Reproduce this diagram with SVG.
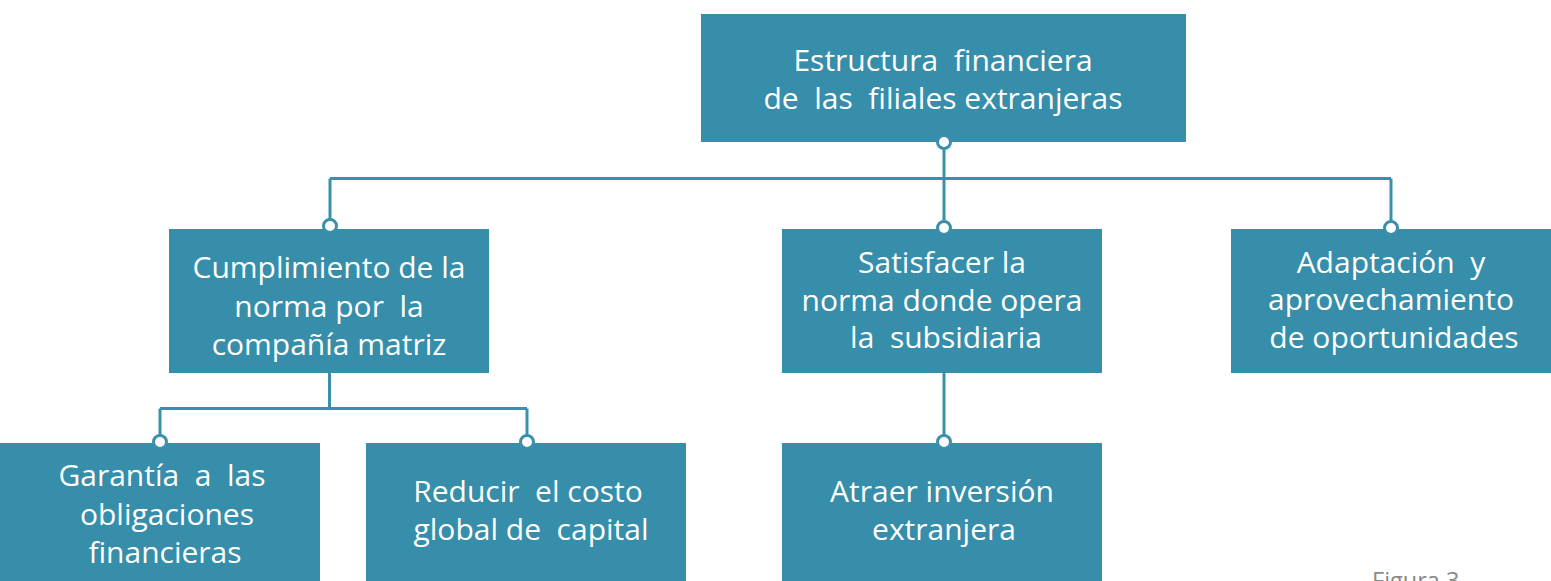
<svg xmlns="http://www.w3.org/2000/svg" width="1551" height="581" viewBox="0 0 1551 581">
<style>
.box{fill:#368EAA}
.t{font-family:"Open Sans","Noto Sans","Liberation Sans",sans-serif;font-size:30px;fill:#ffffff;text-anchor:middle}
.ln{stroke:#3A8FAB;stroke-width:3;fill:none}
.dot{fill:#ffffff;stroke:#3A8FAB;stroke-width:3}
.fig{font-family:"Open Sans","Liberation Sans",sans-serif;font-size:23.5px;fill:#8a8a8a}
</style>
<rect width="1551" height="581" fill="#ffffff"/>
<g id="connectors">
<path class="ln" d="M944 142 V229 M330 178.5 H1391 M330 178.5 V226 M1391 178.5 V229"/>
<path class="ln" d="M329.5 373 V408.5 M160 408.5 H527 M160 408.5 V442 M527 408.5 V442"/>
<path class="ln" d="M944 373 V442"/>
</g>
<g id="n0"><rect class="box" x="701" y="14" width="485" height="128"/>
<text class="t" x="943" y="71" xml:space="preserve">Estructura  financiera</text>
<text class="t" x="943" y="109" xml:space="preserve">de  las  filiales extranjeras</text></g>
<g id="n1"><rect class="box" x="169" y="229" width="320" height="144"/>
<text class="t" x="329" y="278">Cumplimiento de la</text>
<text class="t" x="329" y="317" xml:space="preserve">norma por  la</text>
<text class="t" x="329" y="355">compañía matriz</text></g>
<g id="n2"><rect class="box" x="782" y="229" width="320" height="144"/>
<text class="t" x="942" y="273">Satisfacer la</text>
<text class="t" x="942" y="311">norma donde opera</text>
<text class="t" x="946" y="348" xml:space="preserve">la  subsidiaria</text></g>
<g id="n3"><rect class="box" x="1231" y="229" width="320" height="144"/>
<text class="t" x="1391" y="273" xml:space="preserve">Adaptación  y</text>
<text class="t" x="1391" y="310">aprovechamiento</text>
<text class="t" x="1394" y="348">de oportunidades</text></g>
<g id="n4"><rect class="box" x="0" y="443" width="320" height="138"/>
<text class="t" x="162" y="486" xml:space="preserve">Garantía  a  las</text>
<text class="t" x="167" y="525">obligaciones</text>
<text class="t" x="165" y="563">financieras</text></g>
<g id="n5"><rect class="box" x="366" y="443" width="320" height="138"/>
<text class="t" x="528" y="502" xml:space="preserve">Reducir  el costo</text>
<text class="t" x="531" y="540" xml:space="preserve">global de  capital</text></g>
<g id="n6"><rect class="box" x="782" y="443" width="320" height="138"/>
<text class="t" x="942" y="502">Atraer inversión</text>
<text class="t" x="944" y="540">extranjera</text></g>
<g id="dots">
<circle class="dot" cx="944" cy="142" r="6.5"/>
<circle class="dot" cx="330" cy="226" r="6.5"/>
<circle class="dot" cx="944" cy="228" r="6.5"/>
<circle class="dot" cx="1391" cy="228" r="6.5"/>
<circle class="dot" cx="160" cy="442" r="6.5"/>
<circle class="dot" cx="527" cy="442" r="6.5"/>
<circle class="dot" cx="944" cy="442" r="6.5"/>
</g>
<text class="fig" x="1372" y="589">Figura 3</text>
</svg>
